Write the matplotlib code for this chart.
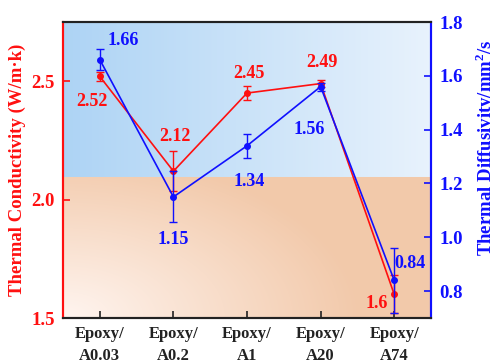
import matplotlib
matplotlib.use("Agg")
import matplotlib.pyplot as plt
import numpy as np

plt.rcParams['font.family'] = ['Liberation Serif', 'DejaVu Serif']
plt.rcParams['font.weight'] = 'bold'
plt.rcParams['mathtext.fontset'] = 'custom'
plt.rcParams['mathtext.rm'] = 'Liberation Serif:bold'

samples = ["Epoxy/\nA0.03", "Epoxy/\nA0.2", "Epoxy/\nA1", "Epoxy/\nA20", "Epoxy/\nA74"]
conductivity = [2.52, 2.12, 2.45, 2.49, 1.60]
conductivity_err = [0.02, 0.085, 0.03, 0.015, 0.08]
diffusivity = [1.66, 1.15, 1.34, 1.56, 0.84]
diffusivity_err = [0.04, 0.095, 0.045, 0.015, 0.12]

# label offsets (pixels) from each point
cond_offsets = [(-8, -25), (2, 35), (2, 20), (1, 21), (-18, -9)]
diff_offsets = [(23, 19), (0, -43), (2, -36), (-11, -43), (16, 17)]

red = '#ff1010'
blue = '#1010ff'

fig = plt.figure(figsize=(4.9, 3.61), dpi=100)
ax = fig.add_axes([0.1286, 0.1191, 0.751, 0.8199])
ax2 = ax.twinx()

x = np.arange(len(samples))

# two-tone gradient backdrop: blue on top, peach below
h, w = 300, 400
yy, xx = np.mgrid[0:1:h * 1j, 0:1:w * 1j]
split = 0.476
blue_l = np.array([0.68, 0.83, 0.96])
blue_r = np.array([0.91, 0.95, 0.99])
top_col = blue_l * (1 - xx[..., None]) + blue_r * xx[..., None]
d = np.clip(np.sqrt((xx / 0.8) ** 2 + (yy / 0.55) ** 2), 0, 1)
peach_lo = np.array([1.0, 0.96, 0.94])
peach_hi = np.array([0.95, 0.79, 0.67])
bot_col = peach_lo * (1 - d[..., None]) + peach_hi * d[..., None]
img = np.where((yy > split)[..., None], top_col, bot_col)
ax.imshow(img, extent=[0, 1, 0, 1], origin='lower', aspect='auto',
          transform=ax.transAxes, zorder=0)

ax.errorbar(x, conductivity, yerr=conductivity_err, color=red, marker='o',
            markersize=4, lw=1.2, capsize=3, elinewidth=1, zorder=3)
ax2.errorbar(x, diffusivity, yerr=diffusivity_err, color=blue, marker='o',
             markersize=4, lw=1.2, capsize=3, elinewidth=1, zorder=3)

for xi, v, off in zip(x, conductivity, cond_offsets):
    ax.annotate(f"{v:g}", (xi, v), xytext=off, textcoords='offset pixels',
                ha='center', va='center', color=red, fontsize=13, fontweight='bold')
for xi, v, off in zip(x, diffusivity, diff_offsets):
    ax2.annotate(f"{v:g}", (xi, v), xytext=off, textcoords='offset pixels',
                 ha='center', va='center', color=blue, fontsize=13, fontweight='bold')

ax.set_xlim(-0.5, 4.5)
ax.set_ylim(1.5, 2.75)
ax2.set_ylim(0.7, 1.8)
ax.set_yticks([1.5, 2.0, 2.5])
ax2.set_yticks([0.8, 1.0, 1.2, 1.4, 1.6, 1.8])
ax.set_xticks(x)
ax.set_xticklabels(samples, fontsize=12, fontweight='bold', linespacing=1.45)

ax.tick_params(axis='x', direction='in', length=5, width=1.2, colors='#222222', pad=6)
ax.tick_params(axis='y', direction='in', length=5, width=1.2, colors=red,
               labelsize=13.5, pad=6)
ax2.tick_params(axis='y', direction='in', length=5, width=1.2, colors=blue,
                labelsize=13.5, pad=6)
for lab in ax.get_yticklabels() + ax2.get_yticklabels():
    lab.set_fontweight('bold')

ax.set_ylabel("Thermal Conductivity (W/m·k)", color=red, fontsize=13.5,
              fontweight='bold', labelpad=4)
ax2.set_ylabel("Thermal Diffusivity/mm$^2$/s", color=blue, fontsize=13.5,
               fontweight='bold')
ax2.yaxis.set_label_coords(1.114, 0.574)

for a in (ax, ax2):
    a.spines['left'].set_color(red)
    a.spines['right'].set_color(blue)
    a.spines['top'].set_color('#222222')
    a.spines['bottom'].set_color('#222222')
    for s in a.spines.values():
        s.set_linewidth(1.5)

fig.savefig("out.png", dpi=100)
